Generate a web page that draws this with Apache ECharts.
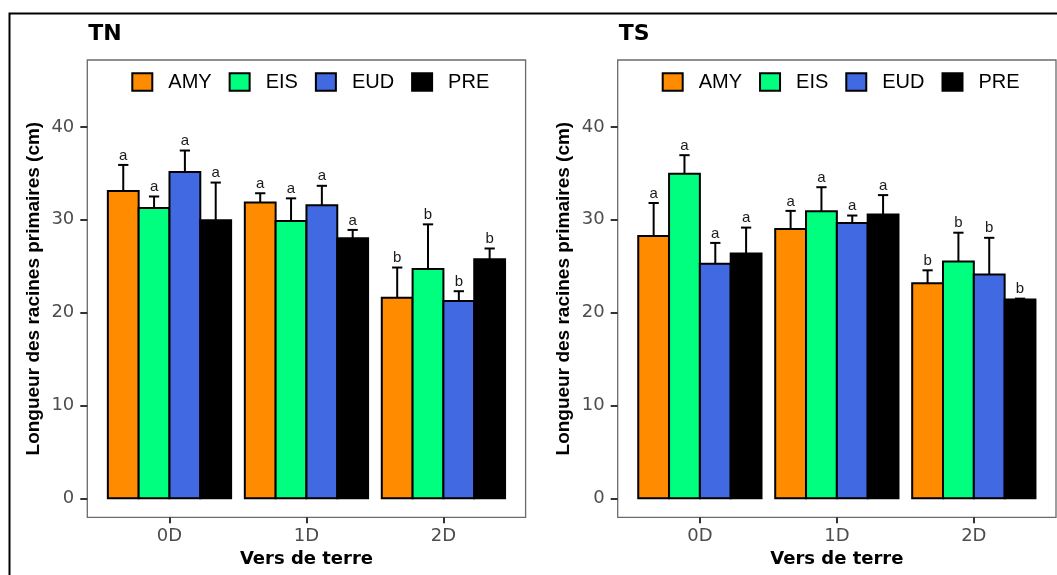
<!DOCTYPE html>
<html>
<head>
<meta charset="utf-8">
<script src="https://cdn.jsdelivr.net/npm/echarts@6/dist/echarts.min.js"></script>
<style>
  html, body { margin: 0; padding: 0; background: #fff; }
  #chart { width: 1057px; height: 575px; }
</style>
</head>
<body>
<div id="chart"></div>
<script>
// Earthworm treatment levels on the x axis
const categories = ['0D', '1D', '2D'];
// Plant groups (one bar per group in each treatment)
const groups = ['AMY', 'EIS', 'EUD', 'PRE'];
const groupColors = ['#FF8C00', '#00FF7F', '#4169E1', '#000000'];
const yTicks = [0, 10, 20, 30, 40];

// TN site: mean primary root length (cm) per group, in category order
const tnAMY = [33.1, 31.85, 21.6];
const tnEIS = [31.25, 29.85, 24.7];
const tnEUD = [35.15, 31.55, 21.25];
const tnPRE = [29.95, 28.0, 25.75];
// TN standard errors (upper whisker length)
const tnAMYerr = [2.8, 1.0, 3.25];
const tnEISerr = [1.25, 2.45, 4.8];
const tnEUDerr = [2.3, 2.1, 1.05];
const tnPREerr = [4.05, 0.9, 1.15];
// TN significance letters
const tnAMYsig = ['a', 'a', 'b'];
const tnEISsig = ['a', 'a', 'b'];
const tnEUDsig = ['a', 'a', 'b'];
const tnPREsig = ['a', 'a', 'b'];

// TS site
const tsAMY = [28.25, 29.0, 23.15];
const tsEIS = [34.95, 30.9, 25.5];
const tsEUD = [25.25, 29.65, 24.1];
const tsPRE = [26.35, 30.55, 21.4];
const tsAMYerr = [3.55, 1.95, 1.4];
const tsEISerr = [2.0, 2.6, 3.1];
const tsEUDerr = [2.25, 0.8, 3.95];
const tsPREerr = [2.8, 2.1, 0.1];
const tsAMYsig = ['a', 'a', 'b'];
const tsEISsig = ['a', 'a', 'b'];
const tsEUDsig = ['a', 'a', 'b'];
const tsPREsig = ['a', 'a', 'b'];

const panels = [
  { title: 'TN', means: [tnAMY, tnEIS, tnEUD, tnPRE], errs: [tnAMYerr, tnEISerr, tnEUDerr, tnPREerr], sigs: [tnAMYsig, tnEISsig, tnEUDsig, tnPREsig] },
  { title: 'TS', means: [tsAMY, tsEIS, tsEUD, tsPRE], errs: [tsAMYerr, tsEISerr, tsEUDerr, tsPREerr], sigs: [tsAMYsig, tsEISsig, tsEUDsig, tsPREsig] }
];

// dodged bar layout in category units (0.9 of the band shared by 4 bars)
const BAR_W = 0.9 / groups.length;
const CAP_W = 0.075;

const chart = echarts.init(document.getElementById('chart'), null, { renderer: 'canvas' });

const panelLeft = [87.3, 617.7];
const panelWidth = 438.3;
const panelTop = 60;
const panelHeight = 457.3;

const grids = [], xAxes = [], yAxes = [], titles = [], legends = [], series = [];

panels.forEach((p, pi) => {
  grids.push({
    left: panelLeft[pi], top: panelTop, width: panelWidth, height: panelHeight,
    show: true, borderColor: '#6b6b6b', borderWidth: 1.3, backgroundColor: '#fff'
  });
  xAxes.push({
    type: 'value', gridIndex: pi, min: 0.4, max: categories.length + 0.6,
    splitLine: { show: false },
    axisLine: { show: false, onZero: false },
    axisTick: { show: true, customValues: categories.map((c, i) => i + 1), length: 6, lineStyle: { color: '#333', width: 2 } },
    axisLabel: {
      customValues: categories.map((c, i) => i + 1),
      formatter: v => categories[Math.round(v) - 1] || '',
      margin: 10, color: '#4d4d4d', fontSize: 18, fontFamily: 'DejaVu Sans'
    },
    name: 'Vers de terre', nameLocation: 'middle', nameGap: 33,
    nameTextStyle: { fontFamily: 'DejaVu Sans', fontWeight: 'bold', fontSize: 18, color: '#000' }
  });
  yAxes.push({
    type: 'value', gridIndex: pi, min: -2.05, max: 47.2,
    splitLine: { show: false },
    axisLine: { show: false, onZero: false },
    axisTick: { show: true, customValues: yTicks, length: 7, lineStyle: { color: '#333', width: 2 } },
    axisLabel: {
      customValues: yTicks, margin: 13, color: '#4d4d4d', fontSize: 18, fontFamily: 'DejaVu Sans'
    },
    name: 'Longueur des racines primaires (cm)', nameLocation: 'middle', nameGap: 44,
    nameTextStyle: { fontFamily: 'Liberation Sans', fontWeight: 'bold', fontSize: 19, color: '#000' }
  });
  titles.push({
    text: p.title, left: panelLeft[pi] + 1, top: 23, padding: 0,
    textStyle: { fontFamily: 'DejaVu Sans', fontWeight: 'bold', fontSize: 22, color: '#000' }
  });
  legends.push({
    data: groups, left: panelLeft[pi] + 44, top: 72, padding: 0,
    orient: 'horizontal', icon: 'rect', itemWidth: 20, itemHeight: 17.5, itemGap: 17,
    selectedMode: false,
    itemStyle: { borderColor: '#000', borderWidth: 2 },
    textStyle: { fontFamily: 'Liberation Sans', fontSize: 20, color: '#000', padding: [0, 0, 0, 11] }
  });

  groups.forEach((g, gi) => {
    const offset = (gi - (groups.length - 1) / 2) * BAR_W;
    const sig = p.sigs[gi];
    series.push({
      type: 'custom', name: g, xAxisIndex: pi, yAxisIndex: pi, clip: false,
      itemStyle: { color: groupColors[gi], borderColor: '#000', borderWidth: 2 },
      encode: { x: 0, y: 1 },
      data: p.means[gi].map((v, ci) => [ci + 1, v, p.errs[gi][ci]]),
      renderItem: (params, api) => {
        const c = api.value(0) + offset;
        const v = api.value(1);
        const e = api.value(2);
        const tl = api.coord([c - BAR_W / 2, v]);
        const br = api.coord([c + BAR_W / 2, 0]);
        const mid = api.coord([c, v]);
        const top = api.coord([c, v + e]);
        const capHalf = api.size([CAP_W, 0])[0] / 2;
        return {
          type: 'group',
          children: [
            {
              type: 'rect',
              shape: { x: tl[0], y: tl[1], width: br[0] - tl[0], height: br[1] - tl[1] },
              style: { fill: groupColors[gi], stroke: '#000', lineWidth: 2 }
            },
            {
              type: 'line',
              shape: { x1: mid[0], y1: mid[1], x2: top[0], y2: top[1] },
              style: { stroke: '#000', lineWidth: 2 }
            },
            {
              type: 'line',
              shape: { x1: top[0] - capHalf, y1: top[1], x2: top[0] + capHalf, y2: top[1] },
              style: { stroke: '#000', lineWidth: 2 }
            },
            {
              type: 'text',
              style: {
                x: top[0], y: top[1] - 2, text: sig[params.dataIndex],
                align: 'center', verticalAlign: 'bottom',
                font: '15px "Liberation Sans"', fill: '#1a1a1a'
              }
            }
          ]
        };
      }
    });
  });
});

chart.setOption({
  backgroundColor: '#fff',
  animation: false,
  title: titles,
  legend: legends,
  grid: grids,
  xAxis: xAxes,
  yAxis: yAxes,
  series: series,
  graphic: [{
    type: 'rect', silent: true, z: -1,
    shape: { x: 9.5, y: 13.5, width: 1100, height: 620 },
    style: { fill: 'none', stroke: '#000', lineWidth: 2 }
  }]
});
</script>
</body>
</html>
